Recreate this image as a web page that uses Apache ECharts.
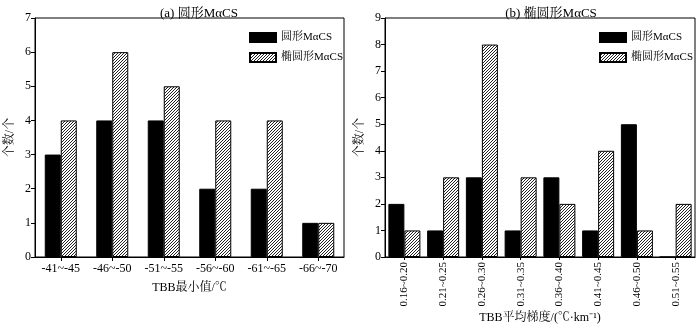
<!DOCTYPE html>
<html><head><meta charset="utf-8">
<script src="https://cdn.jsdelivr.net/npm/echarts@6/dist/echarts.min.js"></script>
<style>html,body{margin:0;padding:0;background:#fff}#c{width:700px;height:327px}</style>
</head><body><div id="c"></div>
<script>
const catsA = ['-41~-45','-46~-50','-51~-55','-56~-60','-61~-65','-66~-70'];
const roundA = [3,4,4,2,2,1];
const ellipA = [4,6,5,4,4,1];
const catsB = ['0.16~0.20','0.21~0.25','0.26~0.30','0.31~0.35','0.36~0.40','0.41~0.45','0.46~0.50','0.51~0.55'];
const roundB = [2,1,3,1,3,1,5,0];
const ellipB = [1,3,8,3,2,4,1,2];
const nameRound = '圆形MαCS';
const nameEllip = '椭圆形MαCS';

const FONT = "'Liberation Serif','Times New Roman','Noto Serif CJK SC','Noto Sans CJK SC',serif";

function hatch(){
  const s = 3;
  const c = document.createElement('canvas');
  c.width = s; c.height = s;
  const g = c.getContext('2d');
  g.fillStyle = '#fff'; g.fillRect(0,0,s,s);
  g.strokeStyle = '#222'; g.lineWidth = 1;
  g.beginPath();
  g.moveTo(-1,s+1); g.lineTo(s+1,-1);
  g.moveTo(-s-1,s+1); g.lineTo(1,-1);
  g.moveTo(-1,2*s+1); g.lineTo(2*s+1,-1);
  g.stroke();
  return c;
}
const pat = {image: hatch(), repeat: 'repeat'};

const chart = echarts.init(document.getElementById('c'), null, {renderer:'canvas'});
function xAx(idx, cats, rotate, fs, margin, tickLen, nameTxt, gap){
  return {type:'category', gridIndex: idx, data: cats,
    axisLine:{show:true, lineStyle:{color:'#000', width:1}},
    axisTick:{show:true, alignWithLabel:true, length:tickLen, lineStyle:{color:'#000'}},
    axisLabel:{rotate: rotate, interval:0, margin:margin, color:'#000', fontFamily:FONT, fontSize:fs},
    name: nameTxt, nameLocation:'middle', nameGap: gap, nameMoveOverlap:false,
    nameTextStyle:{color:'#000', fontFamily:FONT, fontSize:12}};
}
function yAx(idx, max){
  return {type:'value', gridIndex: idx, min:0, max:max, interval:1,
    splitLine:{show:false},
    axisLine:{show:true, lineStyle:{color:'#000', width:1}},
    axisTick:{show:true, length:4, lineStyle:{color:'#000'}},
    axisLabel:{margin:4, color:'#000', fontFamily:FONT, fontSize:12},
    name:'个数/个', nameLocation:'middle', nameGap:19, nameRotate:90, nameMoveOverlap:false,
    nameTextStyle:{color:'#000', fontFamily:FONT, fontSize:12}};
}
const blackStyle = {color:'#000', borderColor:'#000', borderWidth:1};
const hatchStyle = {color: pat, borderColor:'#000', borderWidth:1};
function legend(left){
  return {left:left, top:27, orient:'vertical', itemWidth:26, itemHeight:9, itemGap:9, icon:'rect',
    data:[nameRound, nameEllip], selectedMode:false,
    textStyle:{color:'#000', fontFamily:FONT, fontSize:11}};
}
chart.setOption({
  animation:false,
  backgroundColor:'#fff',
  title:[
    {text:'(a) 圆形MαCS', left:194, top:2, textAlign:'center', textStyle:{color:'#000', fontFamily:FONT, fontSize:13, fontWeight:'normal'}},
    {text:'(b) 椭圆形MαCS', left:546, top:2, textAlign:'center', textStyle:{color:'#000', fontFamily:FONT, fontSize:13, fontWeight:'normal'}}
  ],
  legend:[legend(244), legend(594)],
  grid:[
    {left:35, right:356, top:18, bottom:70, show:true, borderColor:'#000', borderWidth:1, backgroundColor:'transparent', outerBoundsMode:'none', containLabel:false},
    {left:385, right:5, top:18, bottom:70, show:true, borderColor:'#000', borderWidth:1, backgroundColor:'transparent', outerBoundsMode:'none', containLabel:false}
  ],
  xAxis:[xAx(0, catsA, 0, 12, 6, 4, 'TBB最小值/℃', 25), xAx(1, catsB, 90, 11, 5, 3, 'TBB平均梯度/(℃·km⁻¹)', 55)],
  yAxis:[yAx(0,7), yAx(1,9)],
  series:[
    {name:nameRound, type:'bar', xAxisIndex:0, yAxisIndex:0, data:roundA, barWidth:16, barGap:'0%', itemStyle:blackStyle},
    {name:nameEllip, type:'bar', xAxisIndex:0, yAxisIndex:0, data:ellipA, barWidth:16, barGap:'0%', itemStyle:hatchStyle},
    {name:nameRound, type:'bar', xAxisIndex:1, yAxisIndex:1, data:roundB, barWidth:16, barGap:'0%', itemStyle:blackStyle},
    {name:nameEllip, type:'bar', xAxisIndex:1, yAxisIndex:1, data:ellipB, barWidth:16, barGap:'0%', itemStyle:hatchStyle}
  ]
});
</script></body></html>
